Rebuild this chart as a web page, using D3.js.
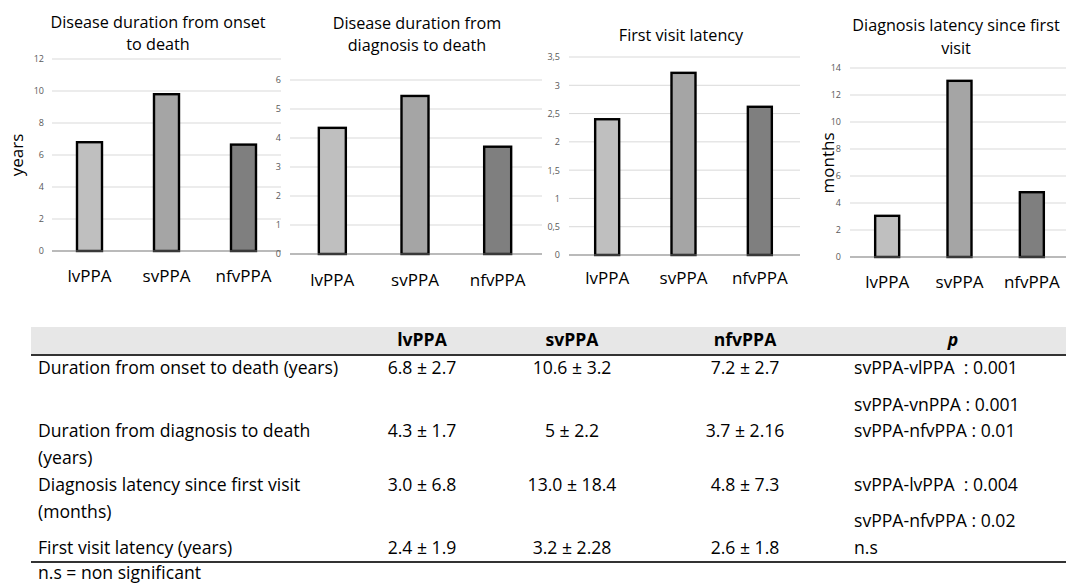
<!DOCTYPE html>
<html><head><meta charset="utf-8">
<script src="https://cdn.jsdelivr.net/npm/d3@7"></script>
<style>
body{margin:0;background:#fff;}
svg{display:block;font-family:"Open Sans",sans-serif;}
</style></head><body>
<svg id="c" width="1066" height="585"></svg>
<script>
const categories = ["lvPPA","svPPA","nfvPPA"];
const onsetToDeath = [6.8, 9.8, 6.65];
const diagnosisToDeath = [4.35, 5.45, 3.7];
const firstVisitLatency = [2.4, 3.22, 2.62];
const diagnosisLatency = [3.05, 13.05, 4.8];
const ticks1 = [0,2,4,6,8,10,12];
const ticks2 = [0,1,2,3,4,5,6];
const ticks3 = [0,0.5,1,1.5,2,2.5,3,3.5];
const ticks4 = [0,2,4,6,8,10,12,14];
const titles = [["Disease duration from onset","to death"],["Disease duration from","diagnosis to death"],["First visit latency"],["Diagnosis latency since first","visit"]];
const yTitles = ["years", null, null, "months"];
const fills = ["#bfbfbf","#a5a5a5","#7f7f7f"];

const tableHeader = ["lvPPA","svPPA","nfvPPA","p"];
const rowLabels = [["Duration from onset to death (years)"],["Duration from diagnosis to death","(years)"],["Diagnosis latency since first visit","(months)"],["First visit latency (years)"]];
const lvCol = ["6.8 \u00b1 2.7","4.3 \u00b1 1.7","3.0 \u00b1 6.8","2.4 \u00b1 1.9"];
const svCol = ["10.6 \u00b1 3.2","5 \u00b1 2.2","13.0 \u00b1 18.4","3.2 \u00b1 2.28"];
const nfvCol = ["7.2 \u00b1 2.7","3.7 \u00b1 2.16","4.8 \u00b1 7.3","2.6 \u00b1 1.8"];
const pCol = [["svPPA-vlPPA  : 0.001","svPPA-vnPPA : 0.001"],["svPPA-nfvPPA : 0.01"],["svPPA-lvPPA  : 0.004","svPPA-nfvPPA : 0.02"],["n.s"]];
const footnote = "n.s = non significant";

const svg = d3.select("#c");

const charts = [
  {data:onsetToDeath, ticks:ticks1, x:[51,282], y:[251,59], max:12, gx:[52,281], bw:25, tx:44, titleX:158, titleY:[24,46], labY:277, ytX:18, ytY:155, fmt:d=>d},
  {data:diagnosisToDeath, ticks:ticks2, x:[291,539], y:[254,80], max:6, gx:[290,542], bw:27, tx:281, titleX:417, titleY:[25,47], labY:281, fmt:d=>d},
  {data:firstVisitLatency, ticks:ticks3, x:[569,798], y:[255,57], max:3.5, gx:[569,800], bw:24, tx:560, titleX:681, titleY:[37], labY:279, fmt:d=>String(d).replace(".",",")},
  {data:diagnosisLatency, ticks:ticks4, x:[851,1068], y:[257,68], max:14, gx:[850,1066], bw:24, tx:841, titleX:956, titleY:[27,50], labY:283, ytX:829, ytY:163, fmt:d=>d}
];

charts.forEach((c,i)=>{
  const g = svg.append("g");
  const xs = d3.scaleBand().domain(categories).range(c.x).paddingInner(0).paddingOuter(0);
  const ys = d3.scaleLinear().domain([0,c.max]).range(c.y);
  g.selectAll("line.grid").data(c.ticks).join("line")
    .attr("x1",c.gx[0]).attr("x2",c.gx[1])
    .attr("y1",d=>ys(d)).attr("y2",d=>ys(d))
    .attr("stroke","#d9d9d9").attr("stroke-width",1);
  const ax = g.append("g").attr("transform",`translate(${c.tx},0)`)
    .call(d3.axisLeft(ys).tickValues(c.ticks).tickFormat(c.fmt).tickSize(0).tickPadding(0));
  ax.select(".domain").remove();
  ax.selectAll("text").attr("fill","#595959").style("font-size","9px").style("font-family","Open Sans, sans-serif");
  g.selectAll("rect").data(c.data).join("rect")
    .attr("x",(d,j)=>xs(categories[j])+xs.bandwidth()/2-c.bw/2)
    .attr("width",c.bw)
    .attr("y",d=>ys(d))
    .attr("height",d=>ys(0)-ys(d))
    .attr("fill",(d,j)=>fills[j])
    .attr("stroke","#000").attr("stroke-width",2.4);
  g.append("line").attr("x1",c.gx[0]).attr("x2",c.gx[1]).attr("y1",ys(0)).attr("y2",ys(0))
    .attr("stroke","#7f7f7f").attr("stroke-width",1.5).attr("opacity",0.6);
  g.selectAll("text.cat").data(categories).join("text")
    .attr("x",d=>xs(d)+xs.bandwidth()/2).attr("y",c.labY)
    .attr("text-anchor","middle").attr("dominant-baseline","middle")
    .style("font-size","17px").attr("fill","#000").text(d=>d);
  titles[i].forEach((t,k)=>{
    g.append("text").attr("x",c.titleX).attr("y",c.titleY[k]).attr("text-anchor","middle")
      .attr("dominant-baseline","middle").style("font-size","16.2px").attr("fill","#000").text(t);
  });
  if (yTitles[i]) {
    g.append("text").attr("transform",`translate(${c.ytX},${c.ytY}) rotate(-90)`)
      .attr("text-anchor","middle").attr("dominant-baseline","middle")
      .style("font-size","17px").attr("fill","#000").text(yTitles[i]);
  }
});

const t = svg.append("g").style("font-size","17.6px");
t.append("rect").attr("x",31).attr("y",327).attr("width",1035).attr("height",27).attr("fill","#e7e7e7");
t.append("line").attr("x1",31).attr("x2",1066).attr("y1",355).attr("y2",355).attr("stroke","#333").attr("stroke-width",2);
t.append("line").attr("x1",31).attr("x2",1066).attr("y1",562).attr("y2",562).attr("stroke","#333").attr("stroke-width",2);
const colX = [422,572,745,953];
t.selectAll("text.h").data(tableHeader).join("text")
  .attr("x",(d,i)=>colX[i]).attr("y",341).attr("text-anchor","middle").attr("dominant-baseline","middle")
  .style("font-weight","bold").style("font-style",(d,i)=>i===3?"italic":"normal").text(d=>d);
const rowY = [369,432,486,549];
rowLabels.forEach((lines,r)=>{
  lines.forEach((l,k)=>{
    t.append("text").attr("x",38).attr("y",rowY[r]+k*27).attr("dominant-baseline","middle").text(l);
  });
  [lvCol,svCol,nfvCol].forEach((col,ci)=>{
    t.append("text").attr("x",colX[ci]).attr("y",rowY[r]).attr("text-anchor","middle").attr("dominant-baseline","middle").text(col[r]);
  });
});
const pY = [[369,406],[432],[486,522],[549]];
pCol.forEach((lines,r)=>{
  lines.forEach((l,k)=>{
    t.append("text").attr("x",854).attr("y",pY[r][k]).attr("dominant-baseline","middle").style("white-space","pre").text(l);
  });
});
t.append("text").attr("x",38).attr("y",574).attr("dominant-baseline","middle").text(footnote);
</script>
</body></html>
